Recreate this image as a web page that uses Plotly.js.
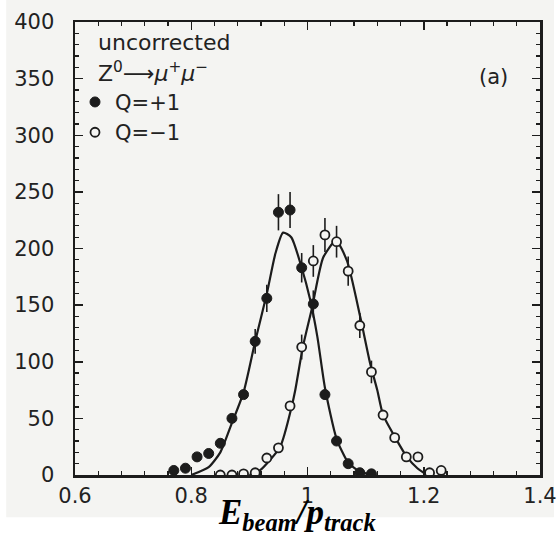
<!DOCTYPE html>
<html>
<head>
<meta charset="utf-8">
<script src="https://cdn.plot.ly/plotly-3.0.1.min.js"></script>
<style>html,body{margin:0;padding:0;background:#ffffff;}</style>
</head>
<body>
<div id="chart" style="width:559px;height:537px;"></div>
<script>
// Q = +1 (filled) histogram points
var plusX = [0.77,0.79,0.81,0.83,0.85,0.87,0.89,0.91,0.93,0.95,0.97,0.99,1.01,1.03,1.05,1.07,1.09,1.11];
var plusY = [4,6,16,19,28,50,71,118,156,232,234,183,151,71,30,10,2,1];
var plusErr = [0,0,0,0,0,0,0,11,12,16,16,13,12,0,0,0,0,0];

// Q = -1 (open) histogram points
var minusX = [0.85,0.87,0.89,0.91,0.93,0.95,0.97,0.99,1.01,1.03,1.05,1.07,1.09,1.11,1.13,1.15,1.17,1.19,1.21,1.23];
var minusY = [0,0,1,2,15,24,61,113,189,212,206,180,132,91,53,33,16,16,2,4];
var minusErr = [0,0,0,0,0,0,0,11,14,15,14,13,11,10,0,0,0,0,0,0];

// fitted curves
var fitPlusX = [0.80,0.83,0.85,0.87,0.89,0.91,0.93,0.945,0.958,0.972,0.99,1.004,1.017,1.03,1.05,1.07,1.09,1.11];
var fitPlusY = [0,7,20,46,73,118,160,196,214,210,183,156,122,77,32,11,3,0];
var fitMinusX = [0.90,0.918,0.953,0.973,0.979,0.992,1.008,1.027,1.049,1.068,1.091,1.108,1.12,1.13,1.151,1.171,1.189,1.206];
var fitMinusY = [0,4,25,61,75,113,148,192,207,189,139,98,75,53,33,16,6,0];

var xTitle = '<b><i>E<sub>beam</sub>/p<sub>track</sub></i></b>';

var ink = '#1c1c1c';
var scan = '#f4f4f2';

var traces = [
  {x: fitPlusX, y: fitPlusY, mode: 'lines', line: {color: ink, width: 2.2, shape: 'spline', smoothing: 0.6}, showlegend: false, hoverinfo: 'skip'},
  {x: fitMinusX, y: fitMinusY, mode: 'lines', line: {color: ink, width: 2.2, shape: 'spline', smoothing: 0.6}, showlegend: false, hoverinfo: 'skip'},
  {x: plusX, y: plusY, mode: 'markers', name: 'Q=+1',
   marker: {symbol: 'circle', size: 10, color: ink, line: {color: ink, width: 1}},
   error_y: {type: 'data', array: plusErr, visible: true, color: ink, thickness: 1.6, width: 0}},
  {x: minusX, y: minusY, mode: 'markers', name: 'Q=\u22121',
   marker: {symbol: 'circle', size: 9, color: scan, line: {color: ink, width: 1.8}},
   error_y: {type: 'data', array: minusErr, visible: true, color: ink, thickness: 1.6, width: 0}}
];

var tickFont = {family: 'DejaVu Sans', size: 21, color: '#222'};

var layout = {
  width: 559, height: 537,
  margin: {l: 75, r: 19, t: 22, b: 62},
  paper_bgcolor: '#ffffff',
  plot_bgcolor: scan,
  showlegend: true,
  legend: {x: 0.0, y: 0.868, xanchor: 'left', yanchor: 'top', bgcolor: 'rgba(0,0,0,0)',
           font: {family: 'DejaVu Sans', size: 21, color: '#222'}, tracegroupgap: 0, itemwidth: 30},
  shapes: [
    {type: 'rect', xref: 'paper', yref: 'paper', x0: -0.148, x1: 1.03, y0: -0.093, y1: 1.06,
     fillcolor: scan, line: {width: 0}, layer: 'below'}
  ],
  xaxis: {
    range: [0.6, 1.4], tickvals: [0.6, 0.8, 1.0, 1.2, 1.4], ticktext: ['0.6', '0.8', '1', '1.2', '1.4'],
    ticks: 'inside', ticklen: 8, tickwidth: 1.5, tickcolor: ink,
    minor: {dtick: 0.04, tick0: 0.6, ticks: 'inside', ticklen: 4, tickwidth: 1.2, tickcolor: ink, showgrid: false},
    showline: true, linecolor: ink, linewidth: 2.5, mirror: 'ticks',
    showgrid: false, zeroline: false, tickfont: tickFont, ticklabelstandoff: 0
  },
  yaxis: {
    range: [0, 400], dtick: 50, tick0: 0,
    ticks: 'inside', ticklen: 8, tickwidth: 1.5, tickcolor: ink,
    minor: {dtick: 10, ticks: 'inside', ticklen: 4, tickwidth: 1.2, tickcolor: ink, showgrid: false},
    showline: true, linecolor: ink, linewidth: 2.5, mirror: 'ticks',
    showgrid: false, zeroline: false, tickfont: tickFont, ticklabelstandoff: 14
  },
  annotations: [
    {xref: 'paper', yref: 'paper', x: 0.477, y: -0.137, xanchor: 'center', yanchor: 'bottom', showarrow: false,
     text: xTitle, font: {family: 'Liberation Serif', size: 35, color: '#000'}, borderpad: 0},
    {xref: 'paper', yref: 'paper', x: 0.045, y: 0.955, xanchor: 'left', yanchor: 'middle', showarrow: false,
     text: 'uncorrected', font: {family: 'DejaVu Sans', size: 22, color: '#222'}},
    {xref: 'paper', yref: 'paper', x: 0.045, y: 0.89, xanchor: 'left', yanchor: 'middle', showarrow: false,
     text: 'Z<sup>0</sup>\u27F6<i>\u03BC</i><sup>+</sup><i>\u03BC</i><sup>\u2212</sup>', font: {family: 'DejaVu Sans', size: 22, color: '#222'}},
    {xref: 'paper', yref: 'paper', x: 0.935, y: 0.879, xanchor: 'right', yanchor: 'middle', showarrow: false,
     text: '(a)', font: {family: 'DejaVu Sans', size: 21, color: '#222'}}
  ]
};

Plotly.newPlot('chart', traces, layout, {displayModeBar: false, staticPlot: true});
</script>
</body>
</html>
